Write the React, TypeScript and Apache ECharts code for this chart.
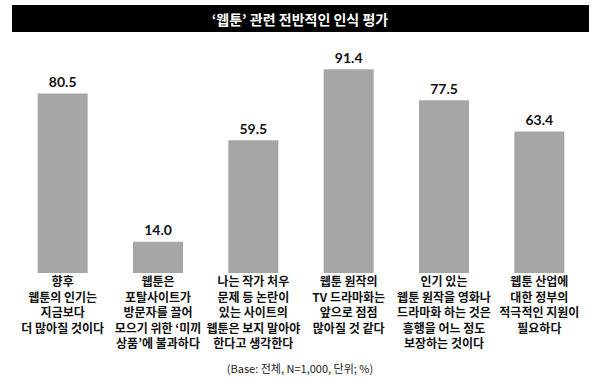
import React, { useEffect, useRef } from "react";
import * as echarts from "echarts";

const categories = [
  "향후\n웹툰의 인기는\n지금보다\n더 많아질 것이다",
  "웹툰은\n포탈사이트가\n방문자를 끌어\n모으기 위한 ‘미끼\n상품’에 불과하다",
  "나는 작가 처우\n문제 등 논란이\n있는 사이트의\n웹툰은 보지 말아야\n한다고 생각한다",
  "웹툰 원작의\nTV 드라마화는\n앞으로 점점\n많아질 것 같다",
  "인기 있는\n웹툰 원작을 영화나\n드라마화 하는 것은\n흥행을 어느 정도\n보장하는 것이다",
  "웹툰 산업에\n대한 정부의\n적극적인 지원이\n필요하다",
];
const values = [80.5, 14.0, 59.5, 91.4, 77.5, 63.4];
const titleText = "‘웹툰’ 관련 전반적인 인식 평가";
const noteText = "(Base: 전체, N=1,000, 단위; %)";

export default function App() {
  const ref = useRef<HTMLDivElement>(null);
  useEffect(() => {
    document.body.style.margin = "0";
    if (!ref.current) return;
    const chart = echarts.init(ref.current, undefined, { renderer: "svg" });
    chart.setOption({
      animation: false,
      backgroundColor: "#ffffff",
      graphic: [
        {
          type: "rect",
          left: 12,
          top: 5,
          shape: { width: 577, height: 27 },
          style: { fill: "#000000" },
          z: 0,
        },
      ],
      title: [
        {
          text: titleText,
          left: "center",
          top: 7,
          textStyle: {
            color: "#ffffff",
            fontSize: 14,
            fontWeight: "bold",
            fontFamily: "Noto Sans CJK KR",
          },
          z: 10,
        },
        {
          text: noteText,
          left: "center",
          top: 357,
          textStyle: {
            color: "#222222",
            fontSize: 11,
            fontWeight: "normal",
            fontFamily: "Noto Sans CJK KR",
          },
        },
      ],
      grid: { left: 15, right: 13, top: 50, bottom: 111, containLabel: false },
      xAxis: {
        type: "category",
        data: categories,
        axisLine: { show: false },
        axisTick: { show: false },
        axisLabel: {
          interval: 0,
          margin: 0,
          color: "#111111",
          fontSize: 12,
          lineHeight: 15.5,
          fontWeight: "bold",
          fontFamily: "Noto Sans CJK KR",
        },
      },
      yAxis: {
        type: "value",
        min: 0,
        max: 100,
        show: false,
        splitLine: { show: false },
      },
      series: [
        {
          type: "bar",
          data: values,
          barWidth: 50,
          itemStyle: { color: "#a6a6a6" },
          label: {
            show: true,
            position: "top",
            distance: 5,
            formatter: (p: any) => Number(p.value).toFixed(1),
            color: "#111111",
            fontSize: 14,
            fontWeight: "bold",
            fontFamily: "Lato",
          },
        },
      ],
    });
    return () => chart.dispose();
  }, []);
  return <div ref={ref} style={{ width: 600, height: 384 }} />;
}
